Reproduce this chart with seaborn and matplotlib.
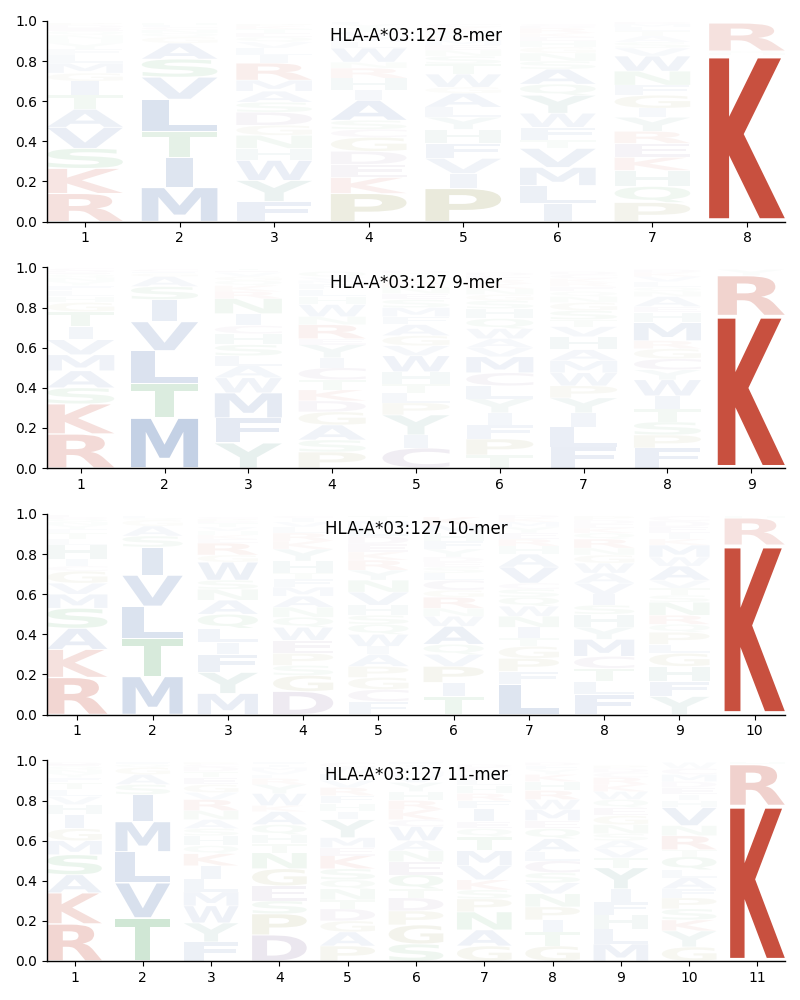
import matplotlib
matplotlib.use("Agg")
import matplotlib.pyplot as plt
import seaborn as sns
from matplotlib.textpath import TextPath
from matplotlib.patches import PathPatch
from matplotlib.font_manager import FontProperties
from matplotlib.transforms import Affine2D

allele = "HLA-A*03:127"
lengths = [8, 9, 10, 11]

# stacked letter heights per position, listed bottom -> top
mer8 = [
    "R .14 K .125 S .10 V .105 A .09 T .07 I .07 G .04 M .05 L .04 F .03 Y .03 H .02 N .02 Q .02 E .015 D .015 P .01",
    "M .17 I .15 T .13 L .16 V .11 S .09 A .08 G .03 Q .02 N .015 C .015 F .01 H .01",
    "F .10 Y .105 W .10 H .06 N .065 G .05 D .065 S .05 A .055 M .055 R .085 I .04 L .035 V .03 Q .025 E .02 T .02 K .015 P .01",
    "P .14 K .08 E .065 D .065 G .07 C .04 S .045 A .10 I .05 H .06 R .05 N .03 W .07 L .03 M .025 V .025 T .02 Y .02 F .01",
    "P .165 I .075 V .075 F .075 H .07 Y .06 L .05 A .07 G .03 W .065 T .05 S .04 N .03 E .025 M .025 R .02 Q .015 D .01 K .02 C .015",
    "I .09 L .09 M .09 V .095 T .04 F .065 W .07 Y .09 Q .055 A .075 S .04 N .04 G .03 H .03 E .02 K .02 R .025 D .01 C .01",
    "P .095 Q .08 H .08 K .065 E .07 R .06 Y .07 I .045 G .065 F .05 N .07 W .075 V .04 S .03 A .03 T .025 L .02 M .015 D .01",
    "K .83 H .01 Q .01 R .14",
]
mer9 = [
    "R .17 K .15 S .08 A .085 M .08 V .075 I .065 T .075 G .045 H .03 L .03 F .025 Y .02 N .02 Q .015 E .01 D .01 C .01",
    "M .25 T .17 L .165 V .145 I .11 S .065 A .05 G .015 F .01 C .01",
    "Y .125 F .125 M .125 W .075 A .06 L .05 S .055 H .055 C .04 I .06 N .075 R .035 K .03 Q .025 G .02 V .02 E .01 T .01",
    "P .08 S .06 A .075 G .065 D .055 K .055 T .05 C .06 I .05 Y .065 E .03 R .07 N .04 W .06 H .04 L .035 F .03 M .015 V .015 Q .03",
    "C .10 I .065 Y .10 P .06 L .05 T .045 H .06 W .08 V .05 G .05 A .055 F .04 M .045 S .04 E .03 N .03 R .03 K .02 Q .02 D .015",
    "T .065 P .08 F .07 I .06 Y .07 L .065 C .065 M .08 V .045 A .045 W .05 Q .05 H .05 S .04 G .03 N .03 K .025 R .02 E .02 D .015",
    "F .105 L .10 I .07 Y .075 P .06 W .065 M .06 A .055 H .065 V .05 T .035 S .045 G .04 N .03 Q .025 E .025 R .02 K .02 C .02 D .015",
    "F .10 P .065 S .065 T .065 I .065 W .08 Y .05 C .055 G .05 R .04 M .09 H .05 E .03 A .05 N .025 Q .02 L .03 V .025 K .02 D .015",
    "K .76 R .20 Y .03",
]
mer10 = [
    "R .185 K .14 A .105 S .10 M .07 V .055 G .06 C .025 I .035 H .07 L .03 T .03 F .02 Y .02 N .015 Q .015 D .01 E .01",
    "M .19 T .19 L .16 V .155 I .14 S .055 A .05 G .03 Q .01 F .01",
    "M .105 Y .105 F .09 I .06 L .07 Q .07 A .07 N .055 S .045 W .09 G .035 R .06 E .02 K .02 H .02 V .02 T .02 D .01 P .01 C .01",
    "D .115 G .08 S .05 P .06 E .065 W .065 Q .05 N .05 A .055 M .045 F .04 T .03 H .06 Y .06 K .04 R .04 L .03 V .025 I .02 C .01",
    "F .065 C .06 G .06 P .055 A .06 I .04 W .06 Q .05 S .045 H .05 V .065 N .06 Y .05 R .05 K .04 E .04 D .04 L .04 M .035 T .025",
    "T .09 I .07 P .08 V .06 Q .05 A .09 W .05 N .04 R .055 G .035 C .05 L .035 S .03 E .025 D .025 Y .04 F .04 H .04 M .04 K .04",
    "L .15 F .065 P .065 G .06 T .04 I .055 N .055 W .05 Q .045 S .04 C .03 V .08 A .065 H .04 R .035 E .03 Y .03 M .025 K .02 D .015",
    "F .10 L .065 T .065 C .06 M .085 Y .06 H .065 S .045 I .055 V .055 A .05 W .05 G .04 N .035 R .045 Q .03 K .025 E .02 D .02 P .02",
    "Y .09 F .075 H .075 G .065 L .045 P .06 Q .04 R .045 N .065 S .035 T .035 V .04 A .07 W .045 M .06 K .03 I .03 E .03 D .03 C .025",
    "K .845 R .135 H .01",
]
mer11 = [
    "R .185 K .155 A .09 S .10 M .07 G .06 I .07 H .05 V .04 L .035 T .035 F .025 Y .02 N .02 Q .015 E .01 D .01",
    "T .215 V .175 L .155 M .15 I .135 S .05 A .05 G .035 Q .015 F .01",
    "F .095 Y .095 W .085 M .07 L .065 I .065 K .06 Q .04 H .05 S .035 A .045 N .045 R .055 V .035 G .04 E .035 T .03 D .025 C .01 P .01",
    "D .13 P .105 S .065 E .075 G .085 N .08 T .045 H .045 Q .05 A .065 K .03 W .06 Y .045 R .03 L .02 V .02 M .015 I .015 F .01",
    "P .075 A .07 G .055 D .06 T .045 N .055 Q .045 S .055 K .065 E .04 M .05 Y .09 I .04 H .04 F .04 R .04 V .035 L .035 W .03 C .025",
    "S .085 G .095 P .07 D .065 T .045 Q .07 E .065 N .055 A .05 W .07 C .035 K .05 R .045 H .045 Y .045 V .035 M .02 L .02 I .015 F .01",
    "G .075 A .08 N .09 P .065 S .045 K .05 V .07 M .075 T .07 Q .04 E .035 I .065 F .04 R .035 H .04 L .03 W .025 Y .02 C .015 D .015",
    "G .075 T .07 I .06 P .065 N .065 V .055 S .05 C .06 L .045 A .065 Q .05 E .04 M .055 W .05 R .045 H .045 K .035 Y .025 F .02 D .015",
    "M .085 L .075 H .07 F .065 I .065 Y .105 T .05 V .045 A .04 S .035 N .045 G .045 E .04 Q .04 W .04 K .035 R .035 C .025 D .02 P .015",
    "G .07 Y .08 K .055 S .055 P .055 F .045 A .055 L .04 Q .065 T .035 R .07 N .05 V .09 H .035 I .03 E .035 D .03 M .035 C .03 W .03",
    "K .775 R .205 H .01",
]
panels = [mer8, mer9, mer10, mer11]

groups = {
    "KR": "#c8503f",
    "AVLIMFW": "#4c72b0",
    "STNQ": "#55a868",
    "PG": "#969650",
    "DEC": "#806498",
    "YH": "#5f9a90",
}
letter_color = {ch: col for grp, col in groups.items() for ch in grp}

sns.set_style("ticks")
plt.rcParams.update({
    "font.family": ["DejaVu Sans"],
    "text.color": "black",
    "xtick.color": "black",
    "ytick.color": "black",
    "axes.edgecolor": "black",
    "axes.linewidth": 1.0,
    "xtick.major.size": 3.5,
    "ytick.major.size": 3.5,
    "xtick.major.width": 0.8,
    "ytick.major.width": 0.8,
    "xtick.labelsize": 10,
    "ytick.labelsize": 10,
})

fp = FontProperties(family="DejaVu Sans", weight="bold")
_cache = {}


def glyph(ch):
    if ch not in _cache:
        _cache[ch] = TextPath((0, 0), ch, size=1, prop=fp)
    return _cache[ch]


E_WIDTH = glyph("E").get_extents().width


def draw_letter(ax, ch, xc, y0, w, h, color, alpha):
    p = glyph(ch)
    ext = p.get_extents()
    # do not stretch narrow glyphs (like I) wider than an "E" would be
    gw = w * min(1.0, ext.width / E_WIDTH)
    t = (Affine2D().translate(-ext.x0, -ext.y0)
         .scale(gw / ext.width, h / ext.height)
         .translate(xc - gw / 2, y0))
    ax.add_patch(PathPatch(t.transform_path(p), facecolor=color,
                           edgecolor="none", alpha=alpha, zorder=2))


def parse(s):
    tok = s.split()
    return [(tok[i], float(tok[i + 1])) for i in range(0, len(tok), 2)]


fig, axes = plt.subplots(4, 1, figsize=(8, 10), dpi=100)
fig.subplots_adjust(left=0.059, right=0.981, top=0.979, bottom=0.039, hspace=0.229)

width = 0.8
pad = 0.02
for ax, L, pos in zip(axes, lengths, panels):
    for i, col in enumerate(pos, start=1):
        y = 0.0
        for ch, h in parse(col):
            alpha = min(1.0, max(0.02, 1.6 * h ** 1.15))
            draw_letter(ax, ch, i, y + pad * h, width, h * (1 - 2 * pad),
                        letter_color[ch], alpha)
            y += h
    ax.set_xlim(0.6, L + 0.4)
    ax.set_ylim(0, 1)
    ax.set_xticks(range(1, L + 1))
    ax.set_yticks([0, 0.2, 0.4, 0.6, 0.8, 1.0])
    ax.text(0.5, 0.925, f"{allele} {L}-mer", transform=ax.transAxes,
            ha="center", va="center", fontsize=12, zorder=5)
    sns.despine(ax=ax)

fig.savefig("out.png", dpi=100)
